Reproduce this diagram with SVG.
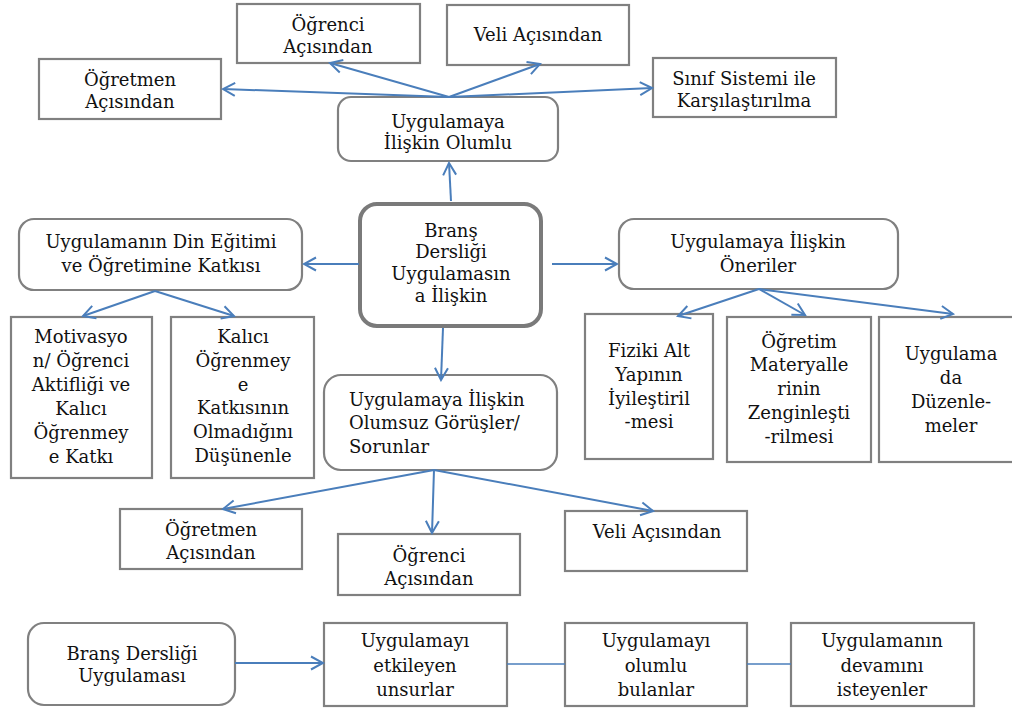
<svg xmlns="http://www.w3.org/2000/svg" width="1012" height="708" viewBox="0 0 1012 708">
<defs>
<style>
.b{fill:#fff;stroke:#808080;stroke-width:2.2}
.c{fill:#fff;stroke:#7a7a7a;stroke-width:4}
text{font-family:"DejaVu Serif","Liberation Serif",serif;font-size:18px;fill:#111;text-anchor:middle}
.l{text-anchor:start}
.k{fill:none;stroke:#4a7ebb;stroke-width:2}
.a{marker-end:url(#arr)}
</style>
<marker id="arr" viewBox="0 0 16 16" refX="14" refY="8" markerWidth="16" markerHeight="16" markerUnits="userSpaceOnUse" orient="auto">
<path d="M2,1.5 L14,8 L2,14.5" fill="none" stroke="#4a7ebb" stroke-width="2"/>
</marker>
</defs>
<rect width="1012" height="708" fill="#fff"/>
<g id="ogrenci-top"><rect class="b" x="237" y="4" width="183" height="59"/><text x="328" y="31">Öğrenci</text><text x="328" y="53">Açısından</text></g>
<g id="veli-top"><rect class="b" x="447" y="5" width="182" height="60"/><text x="538" y="41">Veli Açısından</text></g>
<g id="ogretmen-top"><rect class="b" x="39" y="59" width="182" height="60"/><text x="130" y="86">Öğretmen</text><text x="130" y="108">Açısından</text></g>
<g id="sinif"><rect class="b" x="653" y="58" width="183" height="59"/><text x="744" y="85">Sınıf Sistemi ile</text><text x="744" y="107">Karşılaştırılma</text></g>
<g id="olumlu"><rect class="b" x="338" y="97" width="220" height="64" rx="13"/><text x="448" y="128">Uygulamaya</text><text x="448" y="149">İlişkin Olumlu</text></g>
<g id="merkez"><rect class="c" x="360" y="204" width="181" height="122" rx="17"/><text x="451" y="237">Branş</text><text x="451" y="258">Dersliği</text><text x="451" y="280">Uygulamasın</text><text x="451" y="302">a İlişkin</text></g>
<g id="din"><rect class="b" x="19" y="219" width="283" height="71" rx="15"/><text x="161" y="248">Uygulamanın Din Eğitimi</text><text x="161" y="272">ve Öğretimine Katkısı</text></g>
<g id="oneriler"><rect class="b" x="619" y="219" width="279" height="70" rx="15"/><text x="758" y="248">Uygulamaya İlişkin</text><text x="758" y="272">Öneriler</text></g>
<g id="motivasyon"><rect class="b" x="11" y="317" width="141" height="161"/><text x="81" y="343">Motivasyo</text><text x="81" y="367">n/ Öğrenci</text><text x="81" y="391">Aktifliği ve</text><text x="81" y="415">Kalıcı</text><text x="81" y="439">Öğrenmey</text><text x="81" y="463">e Katkı</text></g>
<g id="kalici"><rect class="b" x="171" y="317" width="143" height="161"/><text x="243" y="343">Kalıcı</text><text x="243" y="367">Öğrenmey</text><text x="243" y="391">e</text><text x="243" y="414">Katkısının</text><text x="243" y="438">Olmadığını</text><text x="243" y="462">Düşünenle</text></g>
<g id="olumsuz"><rect class="b" x="324" y="375" width="233" height="95" rx="17"/><text class="l" x="349" y="406">Uygulamaya İlişkin</text><text class="l" x="349" y="429">Olumsuz Görüşler/</text><text class="l" x="349" y="453">Sorunlar</text></g>
<g id="fiziki"><rect class="b" x="585" y="314" width="128" height="145"/><text x="649" y="357">Fiziki Alt</text><text x="649" y="381">Yapının</text><text x="649" y="405">İyileştiril</text><text x="649" y="428">-mesi</text></g>
<g id="ogretim"><rect class="b" x="727" y="317" width="144" height="145"/><text x="799" y="348">Öğretim</text><text x="799" y="371">Materyalle</text><text x="799" y="395">rinin</text><text x="799" y="419">Zenginleşti</text><text x="799" y="443">-rilmesi</text></g>
<g id="duzenleme"><rect class="b" x="879" y="317" width="140" height="145"/><text x="951" y="360">Uygulama</text><text x="951" y="384">da</text><text x="951" y="408">Düzenle-</text><text x="951" y="432">meler</text></g>
<g id="ogretmen-alt"><rect class="b" x="120" y="509" width="182" height="60"/><text x="211" y="536">Öğretmen</text><text x="211" y="559">Açısından</text></g>
<g id="ogrenci-alt"><rect class="b" x="338" y="534" width="182" height="61"/><text x="429" y="562">Öğrenci</text><text x="429" y="585">Açısından</text></g>
<g id="veli-alt"><rect class="b" x="565" y="511" width="182" height="60"/><text x="657" y="538">Veli Açısından</text></g>
<g id="brans"><rect class="b" x="28" y="623" width="207" height="82" rx="16"/><text x="132" y="660">Branş Dersliği</text><text x="132" y="682">Uygulaması</text></g>
<g id="etkileyen"><rect class="b" x="324" y="623" width="183" height="83"/><text x="415" y="647">Uygulamayı</text><text x="415" y="672">etkileyen</text><text x="415" y="696">unsurlar</text></g>
<g id="bulanlar"><rect class="b" x="565" y="623" width="182" height="83"/><text x="656" y="647">Uygulamayı</text><text x="656" y="672">olumlu</text><text x="656" y="696">bulanlar</text></g>
<g id="isteyenler"><rect class="b" x="791" y="623" width="183" height="83"/><text x="882" y="647">Uygulamanın</text><text x="882" y="672">devamını</text><text x="882" y="696">isteyenler</text></g>
<g id="connectors" class="k">
<line class="a" x1="449" y1="97" x2="223" y2="89"/>
<line class="a" x1="449" y1="97" x2="330" y2="63"/>
<line class="a" x1="449" y1="97" x2="540" y2="64"/>
<line class="a" x1="449" y1="97" x2="652" y2="88"/>
<line class="a" x1="451" y1="201" x2="449" y2="163"/>
<line class="a" x1="359" y1="264" x2="304" y2="264"/>
<line class="a" x1="155" y1="291" x2="83" y2="316"/>
<line class="a" x1="155" y1="291" x2="234" y2="316"/>
<line class="a" x1="552" y1="264" x2="617" y2="264"/>
<line class="a" x1="759" y1="289" x2="678" y2="316"/>
<line class="a" x1="759" y1="289" x2="805" y2="315"/>
<line class="a" x1="759" y1="289" x2="953" y2="314"/>
<line class="a" x1="443" y1="328" x2="441" y2="380"/>
<line class="a" x1="434" y1="470" x2="223" y2="509"/>
<line class="a" x1="434" y1="470" x2="432" y2="533"/>
<line class="a" x1="434" y1="470" x2="653" y2="511"/>
<line class="a" x1="235" y1="663" x2="323" y2="663"/>
<line x1="507" y1="664" x2="565" y2="664" stroke-width="1.5"/>
<line x1="747" y1="664" x2="791" y2="664" stroke-width="1.5"/>
</g>
</svg>
